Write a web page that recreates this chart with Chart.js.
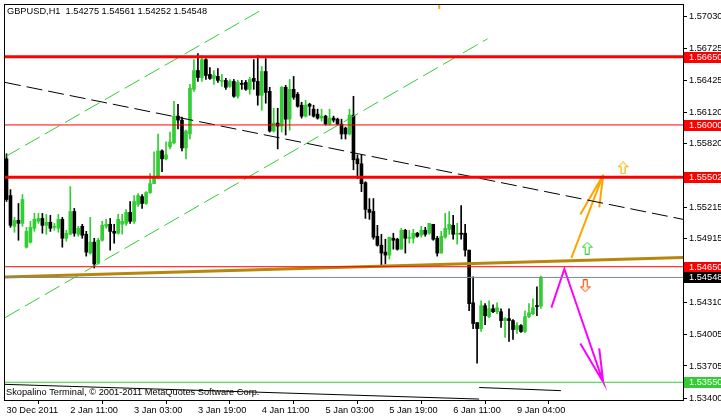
<!DOCTYPE html>
<html>
<head>
<meta charset="utf-8">
<script src="https://cdn.jsdelivr.net/npm/chart.js@4.4.0/dist/chart.umd.min.js"></script>
<style>
html, body { margin: 0; padding: 0; background: #fff; }
</style>
</head>
<body>
<canvas id="chart" width="721" height="418"></canvas>
<script>
// GBPUSD H1 bars
const opens = [1.55677,1.55328,1.55035,1.55091,1.55063,1.54836,1.54884,1.55016,1.55082,1.55110,1.55044,1.55073,1.55025,1.55016,1.55101,1.54921,1.54959,1.55176,1.54959,1.55035,
  1.54959,1.54780,1.54884,1.54685,1.54902,1.55035,1.55054,1.54987,1.54969,1.55054,1.55063,1.55167,1.55082,1.55243,1.55318,1.55252,1.55356,1.55441,1.55507,1.55753,
  1.55677,1.55791,1.55829,1.56084,1.56046,1.55781,1.55914,1.56339,1.56518,1.56452,1.56622,1.56481,1.56443,1.56462,1.56414,1.56424,1.56367,1.56414,1.56273,1.56396,
  1.56405,1.56339,1.56443,1.56414,1.56282,1.56509,1.56320,1.55942,1.56018,1.55989,1.56358,1.56055,1.56339,1.56292,1.56188,1.56084,1.56197,1.56150,1.56103,1.56065,
  1.56084,1.56008,1.56065,1.56055,1.56008,1.55970,1.55914,1.56093,1.55677,1.55630,1.55451,1.55195,1.55176,1.54940,1.54855,1.54789,1.54761,1.54921,1.54912,1.54817,
  1.54997,1.54921,1.54921,1.54969,1.54950,1.54997,1.54969,1.55054,1.54921,1.54780,1.54931,1.55006,1.55044,1.54959,1.54969,1.54969,1.54808,1.54307,1.54118,1.54061,
  1.54279,1.54175,1.54250,1.54222,1.54222,1.54137,1.54156,1.54137,1.54052,1.54090,1.54033,1.54175,1.54203,1.54280,1.54275];
const highs = [1.55725,1.55384,1.55120,1.55252,1.55337,1.55025,1.55082,1.55158,1.55158,1.55158,1.55148,1.55139,1.55063,1.55148,1.55120,1.54997,1.55413,1.55205,1.55035,1.55054,
  1.54987,1.55120,1.54921,1.54921,1.55082,1.55101,1.55110,1.55054,1.55148,1.55148,1.55195,1.55271,1.55328,1.55347,1.55337,1.55365,1.55536,1.55743,1.55914,1.55762,
  1.55838,1.55932,1.56225,1.56197,1.56074,1.55951,1.56386,1.56622,1.56679,1.56660,1.56632,1.56547,1.56518,1.56537,1.56481,1.56443,1.56433,1.56433,1.56424,1.56424,
  1.56424,1.56452,1.56622,1.56660,1.56556,1.56632,1.56358,1.56159,1.56159,1.56367,1.56377,1.56433,1.56462,1.56310,1.56216,1.56235,1.56207,1.56188,1.56150,1.56150,
  1.56093,1.56150,1.56084,1.56065,1.56055,1.55980,1.56150,1.56273,1.55715,1.55715,1.55460,1.55299,1.55299,1.55044,1.54959,1.54912,1.54931,1.54969,1.54921,1.55016,
  1.55006,1.54997,1.55006,1.54978,1.55035,1.55025,1.55063,1.55054,1.54940,1.54987,1.55158,1.55176,1.55139,1.55063,1.55233,1.55054,1.54808,1.54553,1.54118,1.54326,
  1.54298,1.54326,1.54288,1.54307,1.54250,1.54165,1.54250,1.54146,1.54118,1.54099,1.54231,1.54298,1.54345,1.54458,1.54561];
const lows = [1.55271,1.55025,1.54978,1.54902,1.55035,1.54827,1.54874,1.54987,1.55063,1.54969,1.54959,1.54987,1.54997,1.54978,1.54836,1.54893,1.54959,1.54940,1.54940,1.54921,
  1.54751,1.54770,1.54638,1.54676,1.54893,1.55016,1.54808,1.54874,1.54959,1.54959,1.55044,1.55063,1.55063,1.55224,1.55205,1.55243,1.55347,1.55441,1.55488,1.55554,
  1.55668,1.55772,1.55819,1.55961,1.55753,1.55677,1.55866,1.56320,1.56414,1.56414,1.56433,1.56433,1.56386,1.56405,1.56367,1.56339,1.56358,1.56263,1.56254,1.56339,
  1.56329,1.56292,1.56339,1.56188,1.56140,1.56207,1.55932,1.55932,1.55772,1.55932,1.55904,1.55951,1.56244,1.56169,1.56065,1.56074,1.56093,1.56074,1.56055,1.56036,
  1.55999,1.55999,1.56027,1.55999,1.55866,1.55866,1.55904,1.55573,1.55488,1.55365,1.55110,1.55101,1.54912,1.54846,1.54657,1.54676,1.54723,1.54817,1.54808,1.54817,
  1.54780,1.54874,1.54874,1.54931,1.54931,1.54940,1.54959,1.54902,1.54751,1.54780,1.54921,1.54959,1.54912,1.54865,1.54912,1.54751,1.54231,1.54061,1.53731,1.54033,
  1.54099,1.54165,1.54213,1.54203,1.54071,1.53976,1.53939,1.53957,1.54014,1.54024,1.54024,1.54165,1.54194,1.54184,1.54252];
const closes = [1.55290,1.55044,1.55091,1.55063,1.55290,1.54987,1.55025,1.55101,1.55110,1.55044,1.55073,1.55016,1.55035,1.55101,1.54921,1.54969,1.55176,1.54969,1.55016,1.54950,
  1.54789,1.54884,1.54676,1.54902,1.55044,1.55054,1.54987,1.54969,1.55101,1.55082,1.55167,1.55082,1.55271,1.55328,1.55252,1.55356,1.55441,1.55507,1.55753,1.55677,
  1.55715,1.55838,1.56084,1.56046,1.55781,1.55942,1.56348,1.56518,1.56452,1.56622,1.56471,1.56443,1.56471,1.56424,1.56424,1.56358,1.56414,1.56273,1.56405,1.56386,
  1.56339,1.56433,1.56414,1.56282,1.56509,1.56310,1.55942,1.56018,1.55989,1.56358,1.56055,1.56339,1.56263,1.56178,1.56084,1.56188,1.56178,1.56084,1.56065,1.56084,
  1.56008,1.56065,1.56046,1.56008,1.55914,1.55914,1.56093,1.55668,1.55630,1.55441,1.55195,1.55167,1.54931,1.54855,1.54780,1.54761,1.54931,1.54902,1.54817,1.54997,
  1.54921,1.54931,1.54969,1.54940,1.54997,1.54959,1.55063,1.54912,1.54780,1.54940,1.55016,1.55054,1.54959,1.54969,1.54959,1.54808,1.54298,1.54109,1.54061,1.54279,
  1.54184,1.54250,1.54222,1.54260,1.54137,1.54156,1.54137,1.54052,1.54090,1.54033,1.54175,1.54213,1.54260,1.54270,1.54548];

// time axis labels (bar index -> text)
const xTickIdx = [0, 16, 32, 48, 64, 80, 96, 112, 128];
const xTickLabels = ['30 Dec 2011', '2 Jan 11:00', '3 Jan 03:00', '3 Jan 19:00', '4 Jan 11:00',
  '5 Jan 03:00', '5 Jan 19:00', '6 Jan 11:00', '9 Jan 04:00'];

// price axis
const yTickVals = [1.57030, 1.56725, 1.56425, 1.56120, 1.55820, 1.55215, 1.54915, 1.54310, 1.54005, 1.53705, 1.53400];
const priceMin = 1.53381;
const priceMax = 1.57142;
const xMin = -0.375;
const xMax = 169.625;

// horizontal levels
const levelPrices = [1.56650, 1.56000, 1.55502, 1.54650, 1.54548, 1.53550];
const levelLineColors = ['#FF0000', '#FF0000', '#FF0000', '#FF0000', '#778899', '#32CD32'];
const levelBoxColors = ['#FF0000', '#FF0000', '#FF0000', '#FF0000', '#000000', '#32CD32'];
const levelWidths = [3, 1, 3, 1, 1, 1];

// trend lines: [bar index, price] pairs
const channelUpper = [[-0.375, 1.55696], [64.375, 1.57104]];
const channelLower = [[-0.375, 1.54165], [120.625, 1.56821]];
const blackTrend = [[-0.375, 1.56405], [169.625, 1.55101]];
const goldTrend = [[-0.375, 1.54553], [169.625, 1.54737]];
const bottomTrend = [[-0.375, 1.53530], [118.5, 1.53390]];
const bottomTrend2 = [[118.5, 1.53500], [139.0, 1.53470]];
const orangeArrow = [[141.625, 1.54732], [149.625, 1.55526], [143.875, 1.55148], null, [149.625, 1.55526], [148.625, 1.55214]];
const pinkArrow = [[136.625, 1.54260], [139.875, 1.54628], [149.625, 1.53550], [143.875, 1.53920], null, [149.625, 1.53550], [148.625, 1.53872]];
const topMark = [[108.5, 1.57142], [108.5, 1.57104]];

// arrow signs: [bar index, price]
const signUp1 = [154.6, 1.55592];
const signUp2 = [145.6, 1.54827];
const signDown = [145.1, 1.54468];

const FONT = '"Liberation Sans", Arial, sans-serif';
const FONT_SIZE = 9.25;
const GREEN = '#32CD32';

function toXY(pts) {
  return pts.map(p => p ? { x: p[0], y: p[1] } : { x: null, y: null });
}

function lineSet(pts, color, width, dash) {
  return {
    type: 'line', data: toXY(pts), borderColor: color, borderWidth: width,
    borderDash: dash || [], pointRadius: 0, fill: false, tension: 0,
    spanGaps: false, order: 0, borderCapStyle: 'butt', clip: 0
  };
}

function makeSign(up, stroke, fill) {
  const c = document.createElement('canvas');
  c.width = 11; c.height = 13;
  const g = c.getContext('2d');
  let pts = [[5.5, 0.5], [10.5, 5.5], [7.5, 5.5], [7.5, 12.5], [3.5, 12.5], [3.5, 5.5], [0.5, 5.5]];
  if (!up) pts = pts.map(p => [p[0], 13 - p[1]]);
  g.beginPath();
  pts.forEach((p, i) => i ? g.lineTo(p[0], p[1]) : g.moveTo(p[0], p[1]));
  g.closePath();
  g.fillStyle = fill; g.fill();
  g.strokeStyle = stroke; g.lineWidth = 1; g.stroke();
  return c;
}

const bull = closes.map((c, i) => c >= opens[i]);
const candleColors = bull.map(b => b ? GREEN : '#000000');

const datasets = [];
levelPrices.forEach((p, i) => {
  datasets.push(lineSet([[xMin, p], [xMax, p]], levelLineColors[i], levelWidths[i]));
});
datasets.push(lineSet(goldTrend, '#B8860B', 3));
datasets.push(lineSet(bottomTrend, '#000000', 1));
datasets.push(lineSet(bottomTrend2, '#000000', 1));
datasets.push(lineSet(channelUpper, GREEN, 1, [17, 6]));
datasets.push(lineSet(channelLower, GREEN, 1, [17, 6]));
datasets.push(lineSet(blackTrend, '#000000', 1, [16, 6]));
datasets.push(lineSet(orangeArrow, '#FFA500', 2));
datasets.push(lineSet(pinkArrow, '#FF00FF', 2));
datasets.push(lineSet(topMark, '#FFA500', 2));
datasets.push({
  type: 'scatter',
  data: [signUp1, signUp2, signDown].map(p => ({ x: p[0], y: p[1] })),
  pointStyle: [makeSign(true, '#FFA500', '#E8FFE0'), makeSign(true, GREEN, '#F0FFF0'), makeSign(false, '#FF4500', '#FFF0E0')],
  order: 0
});
// candle bodies
datasets.push({
  type: 'bar',
  data: opens.map((o, i) => ({ x: i, y: [o, closes[i]] })),
  backgroundColor: candleColors, borderWidth: 0, barThickness: 3,
  minBarLength: 1, grouped: false, order: 1
});
// candle wicks
datasets.push({
  type: 'bar',
  data: lows.map((l, i) => ({ x: i, y: [l, highs[i]] })),
  backgroundColor: candleColors, borderWidth: 0, barThickness: 1,
  grouped: false, order: 2
});

const overlay = {
  id: 'overlay',
  afterDraw(chart) {
    const { ctx, chartArea: a, scales: { y } } = chart;
    ctx.save();
    ctx.strokeStyle = '#000';
    ctx.lineWidth = 1;
    ctx.strokeRect(a.left - 0.5, a.top - 0.5, a.right - a.left + 1, a.bottom - a.top + 1);
    ctx.font = FONT_SIZE + 'px ' + FONT;
    ctx.textBaseline = 'middle';
    ctx.textAlign = 'left';
    levelPrices.forEach((p, i) => {
      const py = Math.round(y.getPixelForValue(p));
      ctx.fillStyle = levelBoxColors[i];
      ctx.fillRect(a.right + 1, py - 5, 40, 11);
      ctx.fillStyle = '#fff';
      ctx.fillText(p.toFixed(5), a.right + 6, py + 0.5);
    });
    ctx.fillStyle = '#000';
    ctx.fillText('GBPUSD,H1  1.54275 1.54561 1.54252 1.54548', 7, 11);
    ctx.fillText('Skopalino Terminal, \u00A9 2001-2011 MetaQuotes Software Corp.', 6, 392);
    ctx.restore();
  }
};

new Chart(document.getElementById('chart'), {
  type: 'bar',
  data: { datasets },
  options: {
    responsive: false,
    animation: false,
    devicePixelRatio: 1,
    layout: { padding: { top: 2, left: 3, right: 0, bottom: 0 } },
    plugins: { legend: { display: false }, tooltip: { enabled: false } },
    scales: {
      x: {
        type: 'linear', min: xMin, max: xMax, offset: false,
        afterBuildTicks: s => { s.ticks = xTickIdx.map(v => ({ value: v })); },
        afterFit: s => { s.height = 18; s.paddingLeft = 0; s.paddingRight = 0; },
        ticks: {
          autoSkip: false, maxRotation: 0, align: 'start', padding: 1,
          color: '#000', font: { family: FONT, size: FONT_SIZE },
          callback: v => xTickLabels[xTickIdx.indexOf(v)]
        },
        grid: { drawOnChartArea: false, tickLength: 4, color: '#000' },
        border: { display: false }
      },
      y: {
        type: 'linear', position: 'right', min: priceMin, max: priceMax,
        afterBuildTicks: s => { s.ticks = yTickVals.map(v => ({ value: v })); },
        afterFit: s => { s.width = 38; s.paddingTop = 0; s.paddingBottom = 0; },
        ticks: {
          padding: 2, color: '#000', font: { family: FONT, size: FONT_SIZE },
          callback: v => v.toFixed(5)
        },
        grid: { drawOnChartArea: false, tickLength: 4, color: '#000' },
        border: { display: false }
      }
    }
  },
  plugins: [overlay]
});
</script>
</body>
</html>
